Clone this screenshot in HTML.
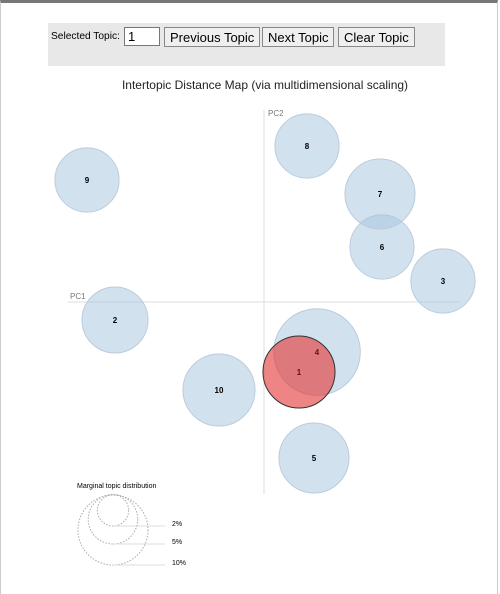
<!DOCTYPE html>
<html><head><meta charset="utf-8">
<style>
html,body{margin:0;padding:0;width:500px;height:594px;overflow:hidden;background:#fff;font-family:"Liberation Sans",Arial,sans-serif;}
#frame{position:absolute;left:0;top:0;width:498px;height:594px;border-left:1px solid #ccc;border-right:1px solid #ccc;border-top:3px solid #777;box-sizing:border-box;}
#topbar{position:absolute;left:48px;top:23px;width:397px;height:43px;background:#e8e8e8;}
#topbar .lbl{position:absolute;left:3px;top:8px;font-size:10.2px;color:#000;white-space:nowrap;}
#topbar input{position:absolute;left:76px;top:4px;width:28px;height:17px;font-size:13px;border:1px solid #777;padding:0 3px;margin:0;font-family:"Liberation Sans",sans-serif;background:#fff;}
#topbar button{position:absolute;top:4px;height:20px;font-size:13px;border:1px solid #888;background:#efefef;padding:0 5px;margin:0;font-family:"Liberation Sans",sans-serif;}
svg{position:absolute;left:0;top:0;}
</style></head><body>
<div id="frame"></div>
<div id="topbar">
<span class="lbl">Selected Topic:</span>
<input type="text" value="1">
<button style="left:116px;">Previous Topic</button>
<button style="left:214px;">Next Topic</button>
<button style="left:290px;">Clear Topic</button>
</div>
<svg id="chart" width="500" height="594">
<text x="265" y="89" text-anchor="middle" font-size="12" fill="#222">Intertopic Distance Map (via multidimensional scaling)</text>
<line x1="264" y1="110" x2="264" y2="494" stroke="#ddd"/>
<line x1="68" y1="302" x2="460" y2="302" stroke="#ddd"/>
<text x="268" y="116" font-size="8" fill="#777">PC2</text>
<text x="70" y="299" font-size="8" fill="#777">PC1</text>
<g id="topics"></g>
<text x="77" y="488" font-size="7" fill="#000">Marginal topic distribution</text>
<g id="legend"></g>
</svg>
<script>
const topics = ["1","2","3","4","5","6","7","8","9","10"];
const pc1 = [0.35,-1.49,1.79,0.53,0.50,1.18,1.16,0.43,-1.77,-0.45];
const pc2 = [-0.70,-0.18,0.21,-0.50,-1.56,0.55,1.08,1.56,1.22,-0.88];
const freq = [10.6,8.9,8.4,15.3,10.0,8.4,10.0,8.4,8.4,10.6];
const legendPcts = [2,5,10];
const legendLabels = ["2%","5%","10%"];
const selected = 0;

const xS = v => 264 + v*100;
const yS = v => 302 - v*100;
const rS = p => Math.sqrt(p)*11.07;
const NS = "http://www.w3.org/2000/svg";
const g = document.getElementById('topics');
const order = topics.map((t,i)=>i).filter(i=>i!==selected).concat([selected]);
order.forEach(i=>{
  const c = document.createElementNS(NS,'circle');
  c.setAttribute('cx',xS(pc1[i]));c.setAttribute('cy',yS(pc2[i]));c.setAttribute('r',rS(freq[i]));
  if(i===selected){c.setAttribute('fill','rgba(228,50,50,0.6)');c.setAttribute('stroke','#333');}
  else{c.setAttribute('fill','rgba(166,196,222,0.5)');c.setAttribute('stroke','#bcd');}
  
  
  g.appendChild(c);
});
topics.forEach((t,i)=>{
  const tx = document.createElementNS(NS,'text');
  tx.setAttribute('x',xS(pc1[i]));tx.setAttribute('y',yS(pc2[i])+3);
  tx.setAttribute('text-anchor','middle');tx.setAttribute('font-size','8');tx.setAttribute('font-weight','bold');
  tx.setAttribute('fill', i===selected||i===3 ? '#611' : '#000');
  tx.textContent=t;
  
  
  g.appendChild(tx);
});
const lg = document.getElementById('legend');
const lcx = 113;
const bottoms = [526,544,565];
legendPcts.forEach((p,i)=>{
  const r = rS(p);
  const bottom = bottoms[i];
  const c = document.createElementNS(NS,'circle');
  c.setAttribute('cx',lcx);c.setAttribute('cy',bottom-r);c.setAttribute('r',r);
  c.setAttribute('fill','none');c.setAttribute('stroke','#aaa');c.setAttribute('stroke-dasharray','1.5,1.5');
  
  
  lg.appendChild(c);
  const l = document.createElementNS(NS,'line');
  l.setAttribute('x1',lcx);l.setAttribute('x2',165);l.setAttribute('y1',bottom);l.setAttribute('y2',bottom);
  l.setAttribute('stroke','#ddd');
  
  
  lg.appendChild(l);
  const tx = document.createElementNS(NS,'text');
  tx.setAttribute('x',172);tx.setAttribute('y',bottom);tx.setAttribute('font-size','7');
  tx.textContent=legendLabels[i];
  
  
  lg.appendChild(tx);
});
</script>
</body></html>
